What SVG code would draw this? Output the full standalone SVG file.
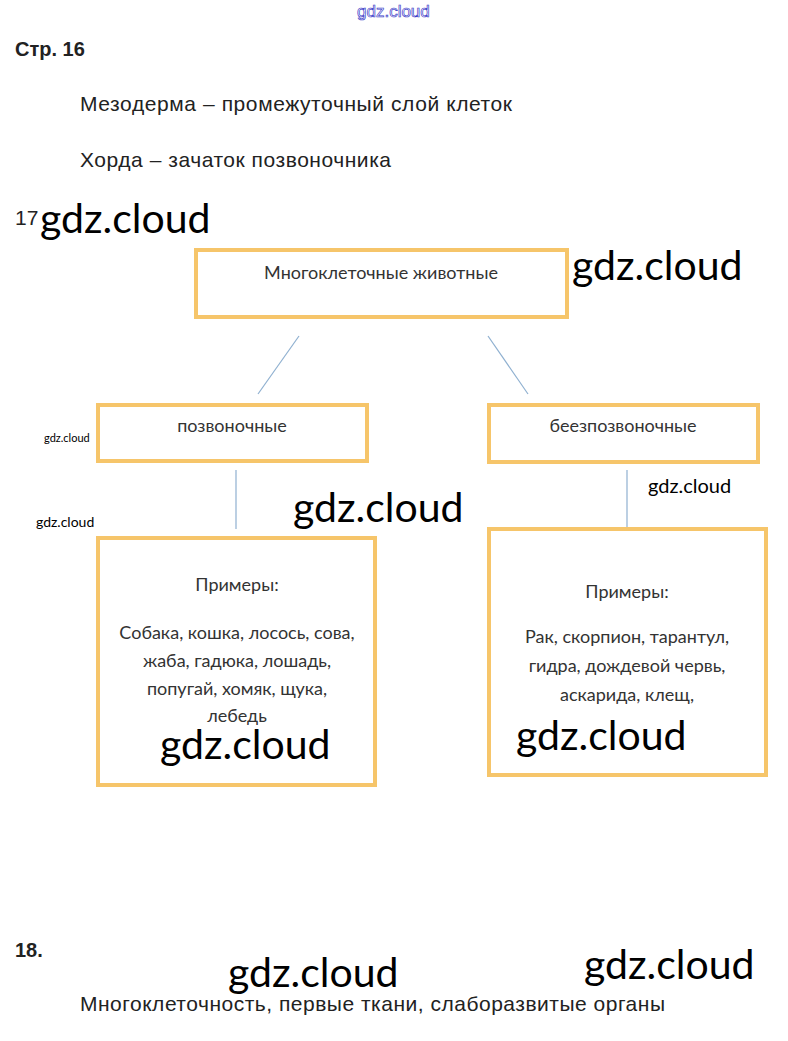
<svg xmlns="http://www.w3.org/2000/svg" width="788" height="1041" viewBox="0 0 788 1041">
<style>
.body{font-family:"Liberation Sans",Arial,sans-serif;fill:#222;font-size:21px}
.bold{font-family:"Liberation Sans",Arial,sans-serif;font-weight:bold;fill:#222;font-size:20px}
.wm{font-family:Lato,"Open Sans",sans-serif;fill:#000}
.box{fill:#fff;stroke:#f6c56a;stroke-width:4}
.bt{font-family:Lato,"Open Sans",sans-serif;fill:#333;font-size:18px;text-anchor:middle}
.conn{stroke:#8fb0d0;stroke-width:1.2;fill:none}
</style>
<rect width="788" height="1041" fill="#fff"/>
<text x="357" y="17" font-family="Liberation Sans,Arial,sans-serif" font-size="17" fill="#fff" stroke="#3a3ac8" stroke-width="0.7">gdz.cloud</text>
<text class="bold" x="15" y="56">Стр. 16</text>
<text class="body" x="80" y="111" textLength="432">Мезодерма – промежуточный слой клеток</text>
<text class="body" x="80" y="167" textLength="311">Хорда – зачаток позвоночника</text>
<text class="body" x="15" y="225" font-size="15">17</text>
<text class="wm" x="40" y="233" font-size="41">gdz.cloud</text>
<g id="connectors">
<line class="conn" x1="299" y1="336" x2="258" y2="394"/>
<line class="conn" x1="488" y1="336" x2="528" y2="394"/>
<line class="conn" x1="236" y1="470" x2="236" y2="529"/>
<line class="conn" x1="627" y1="470" x2="627" y2="528"/>
</g>
<g id="node-root">
<rect class="box" x="196" y="250" width="371" height="67"/>
<text class="bt" x="381" y="279">Многоклеточные животные</text>
</g>
<g id="node-vert">
<rect class="box" x="98" y="405" width="269" height="56"/>
<text class="bt" x="232" y="432">позвоночные</text>
</g>
<g id="node-invert">
<rect class="box" x="489" y="405" width="269" height="57"/>
<text class="bt" x="623" y="432">беезпозвоночные</text>
</g>
<g id="node-vert-ex">
<rect class="box" x="98" y="538" width="277" height="247"/>
<text class="bt" x="237" y="591">Примеры:</text>
<text class="bt" x="237" y="639">Собака, кошка, лосось, сова,</text>
<text class="bt" x="237" y="667">жаба, гадюка, лошадь,</text>
<text class="bt" x="237" y="695">попугай, хомяк, щука,</text>
<text class="bt" x="237" y="722">лебедь</text>
</g>
<g id="node-invert-ex">
<rect class="box" x="489" y="529" width="277" height="246"/>
<text class="bt" x="627" y="598">Примеры:</text>
<text class="bt" x="627" y="643">Рак, скорпион, тарантул,</text>
<text class="bt" x="627" y="672">гидра, дождевой червь,</text>
<text class="bt" x="627" y="701">аскарида, клещ,</text>
</g>
<text class="wm" x="572" y="280" font-size="41">gdz.cloud</text>
<text class="wm" x="44" y="442" font-size="11">gdz.cloud</text>
<text class="wm" x="648" y="493" font-size="20">gdz.cloud</text>
<text class="wm" x="293" y="522" font-size="41">gdz.cloud</text>
<text class="wm" x="36" y="527" font-size="14">gdz.cloud</text>
<text class="wm" x="160" y="759" font-size="41">gdz.cloud</text>
<text class="wm" x="516" y="750" font-size="41">gdz.cloud</text>
<text class="bold" x="15" y="957">18.</text>
<text class="wm" x="228" y="987" font-size="41">gdz.cloud</text>
<text class="wm" x="584" y="979" font-size="41">gdz.cloud</text>
<text class="body" x="80" y="1011" textLength="585">Многоклеточность, первые ткани, слаборазвитые органы</text>
</svg>
